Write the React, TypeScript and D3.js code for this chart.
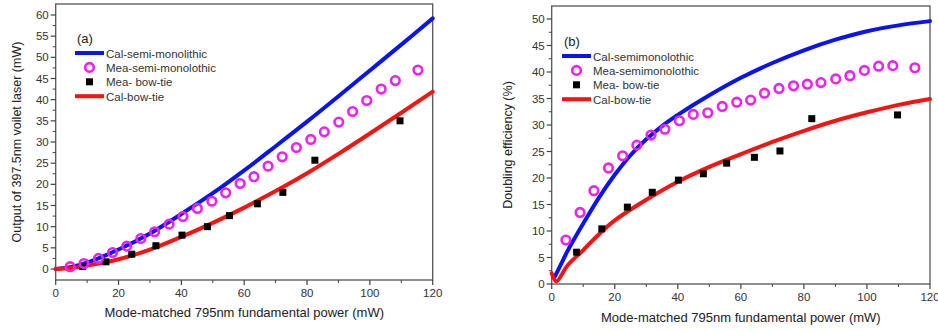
import * as d3 from 'd3';

// ---- panel (a): output power vs fundamental power ----
const aCircleX = [4.6, 9.0, 13.6, 18.1, 22.6, 27.1, 31.5, 36.1, 40.5, 45.1, 49.7, 54.1, 58.7, 63.1, 67.6, 72.1, 76.6, 81.2, 85.5, 90.1, 94.5, 99.0, 103.6, 108.1, 115.3];
const aCircleY = [0.55, 1.3, 2.5, 3.9, 5.4, 7.2, 8.8, 10.6, 12.4, 14.3, 16.0, 18.0, 20.2, 21.8, 24.3, 26.5, 28.7, 30.6, 32.4, 34.7, 37.2, 39.8, 42.5, 44.5, 47.0];
const aSquareX = [8.6, 16.0, 24.2, 31.9, 40.2, 48.3, 55.3, 64.2, 72.3, 82.5, 109.6];
const aSquareY = [0.6, 1.7, 3.5, 5.5, 8.0, 10.0, 12.6, 15.4, 18.1, 25.7, 35.0];
const aCurveX = [0, 5, 10, 20, 30, 40, 50, 60, 70, 80, 90, 100, 110, 120];
const aBlueY = [0, 0.5, 1.5, 4.6, 8.4, 13.0, 17.9, 23.3, 29.0, 34.8, 40.8, 46.9, 53.0, 59.2];
const aRedY = [0, 0.25, 0.8, 2.3, 4.6, 7.6, 10.9, 14.5, 18.4, 22.6, 27.2, 32.0, 36.9, 41.9];
const aLegend = ['Cal-semi-monolithic', 'Mea-semi-monolothic', 'Mea- bow-tie', 'Cal-bow-tie'];
const aYTicks = [0, 5, 10, 15, 20, 25, 30, 35, 40, 45, 50, 55, 60];

// ---- panel (b): doubling efficiency ----
const bCircleX = [4.5, 9.0, 13.4, 18.0, 22.5, 27.0, 31.5, 35.9, 40.5, 44.9, 49.5, 54.1, 58.7, 63.1, 67.5, 72.1, 76.7, 81.1, 85.4, 90.1, 94.6, 99.2, 103.7, 108.2, 115.2];
const bCircleY = [8.3, 13.5, 17.6, 21.9, 24.2, 26.2, 28.1, 29.2, 30.8, 32.0, 32.3, 33.5, 34.3, 34.7, 36.0, 36.9, 37.4, 37.7, 38.0, 38.7, 39.3, 40.3, 41.1, 41.2, 40.8];
const bSquareX = [7.9, 15.9, 24.0, 31.9, 40.2, 48.1, 55.5, 64.3, 72.4, 82.5, 109.7];
const bSquareY = [6.0, 10.4, 14.5, 17.3, 19.6, 20.8, 22.8, 23.9, 25.1, 31.2, 31.9];
const bBlueX = [1.0, 3, 5, 10, 15, 20, 25, 30, 35, 40, 50, 60, 70, 80, 90, 100, 110, 120];
const bBlueY = [1.4, 3.8, 6.2, 11.4, 16.3, 20.6, 24.3, 27.3, 29.8, 31.9, 35.6, 38.9, 41.7, 44.1, 46.1, 47.7, 48.8, 49.6];
const bRedX = [0, 1.5, 5, 10, 15, 20, 30, 40, 50, 60, 70, 80, 90, 100, 110, 120];
const bRedY = [2.0, 0.5, 3.5, 6.4, 9.4, 12.0, 15.9, 19.3, 22.1, 24.5, 26.8, 28.9, 30.8, 32.4, 33.8, 34.9];
const bLegend = ['Cal-semimonolothic', 'Mea-semimonolothic', 'Mea- bow-tie', 'Cal-bow-tie'];
const bYTicks = [0, 5, 10, 15, 20, 25, 30, 35, 40, 45, 50];

const xTicks = [0, 20, 40, 60, 80, 100, 120];
const xTitle = 'Mode-matched 795nm fundamental power (mW)';

const FONT = 'Arial, "Liberation Sans", sans-serif';
const BLUE = '#0a14f0';
const RED = '#f5140f';
const MAGENTA = '#f020f0';
const AXIS = '#444';

type PanelProps = {
  left: number;
  right: number;
  top: number;
  bottom: number;
  yZeroPx: number;
  yMax: number;
  yMaxPx: number;
  yTicks: number[];
  yTitle: string;
  yTitleX: number;
  label: string;
  legend: string[];
  legendX: number;
  legendY: number;
  circles: [number[], number[]];
  squares: [number[], number[]];
  blue: [number[], number[]];
  red: [number[], number[]];
  xLabelY: number;
  xTitleY: number;
};

function Panel(p: PanelProps) {
  const x = d3.scaleLinear().domain([0, 120]).range([p.left, p.right]);
  const y = d3.scaleLinear().domain([0, p.yMax]).range([p.yZeroPx, p.yMaxPx]);
  const line = d3
    .line<[number, number]>()
    .x((d) => x(d[0]))
    .y((d) => y(d[1]))
    .curve(d3.curveCatmullRom.alpha(0.5));
  const pts = (a: [number[], number[]]) => a[0].map((v, i) => [v, a[1][i]] as [number, number]);
  const minorY = d3.range(p.yTicks[0] + 2.5, p.yTicks[p.yTicks.length - 1], 5);
  const minorX = d3.range(10, 120, 20);
  const step = 14.4;
  const lx = p.legendX;
  const ly = p.legendY;
  return (
    <g>
      <rect x={p.left} y={p.top} width={p.right - p.left} height={p.bottom - p.top} fill="none" stroke="#555" strokeWidth={1.3} />
      {p.yTicks.map((t) => (
        <g key={'y' + t}>
          <line x1={p.left - 5} x2={p.left} y1={y(t)} y2={y(t)} stroke={AXIS} strokeWidth={1.2} />
          <text x={p.left - 7} y={y(t) + 4} textAnchor="end" fontSize={11.5} fill="#333" fontFamily={FONT}>
            {t}
          </text>
        </g>
      ))}
      {minorY.map((t) => (
        <line key={'my' + t} x1={p.left - 3} x2={p.left} y1={y(t)} y2={y(t)} stroke={AXIS} strokeWidth={1} />
      ))}
      {xTicks.map((t) => (
        <g key={'x' + t}>
          <line x1={x(t)} x2={x(t)} y1={p.bottom} y2={p.bottom + 5} stroke={AXIS} strokeWidth={1.2} />
          <text x={x(t)} y={p.xLabelY} textAnchor="middle" fontSize={11.5} fill="#333" fontFamily={FONT}>
            {t}
          </text>
        </g>
      ))}
      {minorX.map((t) => (
        <line key={'mx' + t} x1={x(t)} x2={x(t)} y1={p.bottom} y2={p.bottom + 3} stroke={AXIS} strokeWidth={1} />
      ))}
      <text x={(p.left + p.right) / 2} y={p.xTitleY} textAnchor="middle" fontSize={13} fill="#222" fontFamily={FONT}>
        {xTitle}
      </text>
      <text
        transform={`translate(${p.yTitleX},${(p.top + p.bottom) / 2}) rotate(-90)`}
        textAnchor="middle"
        fontSize={12.5}
        fill="#222"
        fontFamily={FONT}
      >
        {p.yTitle}
      </text>

      <path d={line(pts(p.blue)) ?? ''} fill="none" stroke={BLUE} strokeWidth={4} strokeLinecap="round" />
      <path d={line(pts(p.red)) ?? ''} fill="none" stroke={RED} strokeWidth={4} strokeLinecap="round" />
      {pts(p.squares).map((d, i) => (
        <rect key={'s' + i} x={x(d[0]) - 3.5} y={y(d[1]) - 3.5} width={7} height={7} fill="#000" />
      ))}
      {pts(p.circles).map((d, i) => (
        <circle key={'c' + i} cx={x(d[0])} cy={y(d[1])} r={4.3} fill="none" stroke={MAGENTA} strokeWidth={2.6} />
      ))}

      <text x={lx + 2} y={ly - 10} fontSize={13} fill="#222" fontFamily={FONT}>
        {p.label}
      </text>
      <line x1={lx} x2={lx + 29} y1={ly} y2={ly} stroke={BLUE} strokeWidth={4} />
      <circle cx={lx + 14.5} cy={ly + step} r={4.3} fill="none" stroke={MAGENTA} strokeWidth={2.6} />
      <rect x={lx + 11} y={ly + 2 * step - 3.5} width={7} height={7} fill="#000" />
      <line x1={lx} x2={lx + 29} y1={ly + 3 * step} y2={ly + 3 * step} stroke={RED} strokeWidth={4} />
      {p.legend.map((s, i) => (
        <text key={s + i} x={lx + 31} y={ly + i * step + 4.5} fontSize={11.5} fill="#333" fontFamily={FONT}>
          {s}
        </text>
      ))}
    </g>
  );
}

export default function App() {
  return (
    <svg width={938} height={331} style={{ position: 'fixed', left: 0, top: 0, background: '#fff' }}>
      <rect width={938} height={331} fill="#fff" />
      <Panel
        left={55.7}
        right={432.7}
        top={4}
        bottom={280}
        yZeroPx={269}
        yMax={60}
        yMaxPx={15}
        yTicks={aYTicks}
        yTitle="Output of 397.5nm voilet laser (mW)"
        yTitleX={21}
        label="(a)"
        legend={aLegend}
        legendX={75}
        legendY={53}
        circles={[aCircleX, aCircleY]}
        squares={[aSquareX, aSquareY]}
        blue={[aCurveX, aBlueY]}
        red={[aCurveX, aRedY]}
        xLabelY={297}
        xTitleY={317}
      />
      <Panel
        left={551.7}
        right={930}
        top={6}
        bottom={284}
        yZeroPx={284}
        yMax={50}
        yMaxPx={19}
        yTicks={bYTicks}
        yTitle="Doubling efficiency (%)"
        yTitleX={512}
        label="(b)"
        legend={bLegend}
        legendX={562}
        legendY={56}
        circles={[bCircleX, bCircleY]}
        squares={[bSquareX, bSquareY]}
        blue={[bBlueX, bBlueY]}
        red={[bRedX, bRedY]}
        xLabelY={301}
        xTitleY={322}
      />
    </svg>
  );
}
